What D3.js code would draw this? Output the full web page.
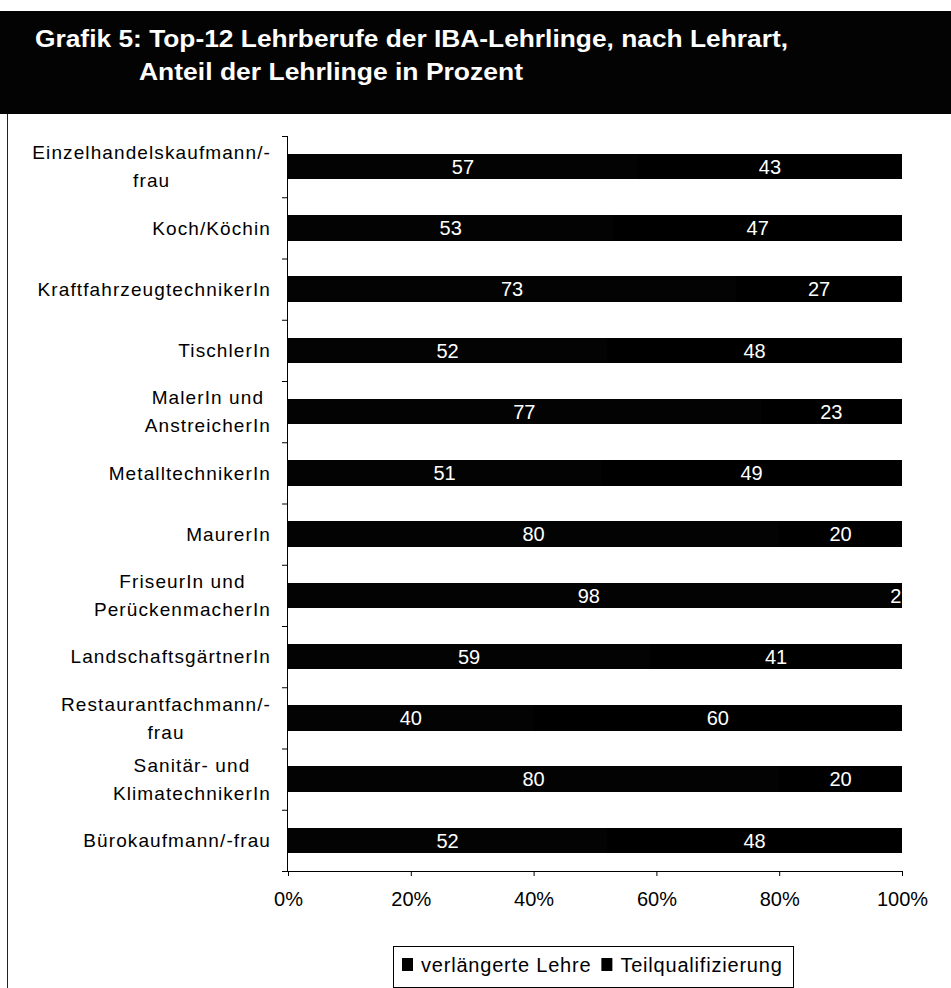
<!DOCTYPE html>
<html>
<head>
<meta charset="utf-8">
<script src="https://cdn.jsdelivr.net/npm/d3@7"></script>
<style>
  body { margin: 0; background: #fff; }
  svg { display: block; font-family: "Liberation Sans", Arial, sans-serif; }
</style>
</head>
<body>
<svg id="chart" width="951" height="988"></svg>
<script>
// Categories, top to bottom (line breaks as in the original)
const categories = [
  "Einzelhandelskaufmann/-\nfrau",
  "Koch/Köchin",
  "KraftfahrzeugtechnikerIn",
  "TischlerIn",
  "MalerIn und\nAnstreicherIn",
  "MetalltechnikerIn",
  "MaurerIn",
  "FriseurIn und\nPerückenmacherIn",
  "LandschaftsgärtnerIn",
  "Restaurantfachmann/-\nfrau",
  "Sanitär- und\nKlimatechnikerIn",
  "Bürokaufmann/-frau",
];
const verlaengert = [57, 53, 73, 52, 77, 51, 80, 98, 59, 40, 80, 52];
const teilqual = [43, 47, 27, 48, 23, 49, 20, 2, 41, 60, 20, 48];
const seriesNames = ["verlängerte Lehre", "Teilqualifizierung"];
const seriesColors = ["#030303", "#000000"];
const tickValues = [0, 0.2, 0.4, 0.6, 0.8, 1];
const titleLines = [
  "Grafik 5: Top-12 Lehrberufe der IBA-Lehrlinge, nach Lehrart,",
  "Anteil der Lehrlinge in Prozent",
];

const svg = d3.select("#chart");
const W = 951;

// Title band
svg.append("rect")
  .attr("x", 0).attr("y", 11)
  .attr("width", W).attr("height", 103)
  .attr("fill", "#030303");

svg.append("text")
  .attr("x", 35).attr("y", 47)
  .attr("fill", "#fff")
  .attr("font-weight", "bold")
  .attr("font-size", 24)
  .attr("textLength", 753)
  .attr("lengthAdjust", "spacingAndGlyphs")
  .text(titleLines[0]);

svg.append("text")
  .attr("x", 139).attr("y", 80)
  .attr("fill", "#fff")
  .attr("font-weight", "bold")
  .attr("font-size", 24)
  .attr("textLength", 384)
  .attr("lengthAdjust", "spacingAndGlyphs")
  .text(titleLines[1]);

// Chart frame (left edge visible in the scan)
svg.append("line")
  .attr("x1", 7.5).attr("x2", 7.5)
  .attr("y1", 114).attr("y2", 988)
  .attr("stroke", "#222").attr("stroke-width", 1);

// Scales
const x = d3.scaleLinear().domain([0, 1]).range([288, 902]);
const y = d3.scaleBand()
  .domain(categories)
  .range([136, 871])
  .paddingInner(0.584)
  .paddingOuter(0.292);

// Stack
const rows = categories.map((c, i) => ({ cat: c, v: verlaengert[i], t: teilqual[i] }));
const stacked = d3.stack().keys(["v", "t"]).offset(d3.stackOffsetExpand)(rows);

const layers = svg.append("g")
  .selectAll("g")
  .data(stacked)
  .join("g")
  .attr("fill", (d, i) => seriesColors[i]);

layers.selectAll("rect")
  .data(d => d)
  .join("rect")
  .attr("shape-rendering", "crispEdges")
  .attr("x", d => x(d[0]))
  .attr("y", d => y(d.data.cat))
  .attr("width", d => x(d[1]) - x(d[0]))
  .attr("height", y.bandwidth());

// Value labels
layers.selectAll("text")
  .data(d => d.map(s => ({ s, key: d.key })))
  .join("text")
  .attr("x", d => (x(d.s[0]) + x(d.s[1])) / 2)
  .attr("y", d => y(d.s.data.cat) + y.bandwidth() / 2)
  .attr("dy", "0.36em")
  .attr("text-anchor", "middle")
  .attr("fill", "#fff")
  .attr("font-size", 20)
  .text(d => d.s.data[d.key]);

// Y axis: line + ticks between categories
const yAxisG = svg.append("g").attr("stroke", "#000");
yAxisG.append("line")
  .attr("x1", 287.5).attr("x2", 287.5)
  .attr("y1", y.range()[0]).attr("y2", y.range()[1])
  .attr("stroke-width", 1);
const bounds = d3.range(categories.length + 1).map(i => y.range()[0] + i * y.step());
yAxisG.selectAll(".ytick")
  .data(bounds)
  .join("line")
  .attr("x1", 282).attr("x2", 288)
  .attr("y1", d => d + 0.5).attr("y2", d => d + 0.5);

// Category labels, multi-line ones centred as a block
const labelRight = 271;
const lineH = 28;
const labelG = svg.append("g")
  .attr("font-size", 19)
  .attr("letter-spacing", 1.1)
  .attr("fill", "#000");

categories.forEach(c => {
  const lines = c.split("\n");
  const cy = y(c) + y.bandwidth() / 2;
  const t = labelG.append("text").attr("text-anchor", "middle");
  const spans = lines.map((ln, j) =>
    t.append("tspan")
      .attr("y", cy + (j - (lines.length - 1) / 2) * lineH)
      .attr("dy", "0.36em")
      .text(ln));
  const widths = spans.map(s => s.node().getComputedTextLength());
  const maxW = d3.max(widths);
  spans.forEach(s => s.attr("x", labelRight - maxW / 2));
});

// X axis
const xAxis = d3.axisBottom(x)
  .tickValues(tickValues)
  .tickFormat(d3.format(".0%"))
  .tickSize(5)
  .tickSizeOuter(0)
  .tickPadding(16);

svg.append("g")
  .attr("transform", `translate(0,${y.range()[1]})`)
  .call(xAxis)
  .call(g => g.selectAll("text").attr("font-size", 20).attr("fill", "#000")
    .attr("font-family", "\"Liberation Sans\", Arial, sans-serif"))
  .call(g => g.selectAll("line, path").attr("stroke", "#000"));

// Legend
const legend = svg.append("g").attr("transform", "translate(393,946)");
legend.append("rect")
  .attr("x", 0.5).attr("y", 0.5)
  .attr("width", 400).attr("height", 41)
  .attr("fill", "#fff").attr("stroke", "#000");

let lx = 9;
seriesNames.forEach((name, i) => {
  legend.append("rect")
    .attr("x", lx).attr("y", 12)
    .attr("width", 11).attr("height", 13)
    .attr("fill", seriesColors[i]);
  const t = legend.append("text")
    .attr("x", lx + 19).attr("y", 26)
    .attr("font-size", 20)
    .attr("letter-spacing", 0.8)
    .attr("fill", "#000")
    .text(name);
  lx += 19 + t.node().getComputedTextLength() + 10;
});
</script>
</body>
</html>
